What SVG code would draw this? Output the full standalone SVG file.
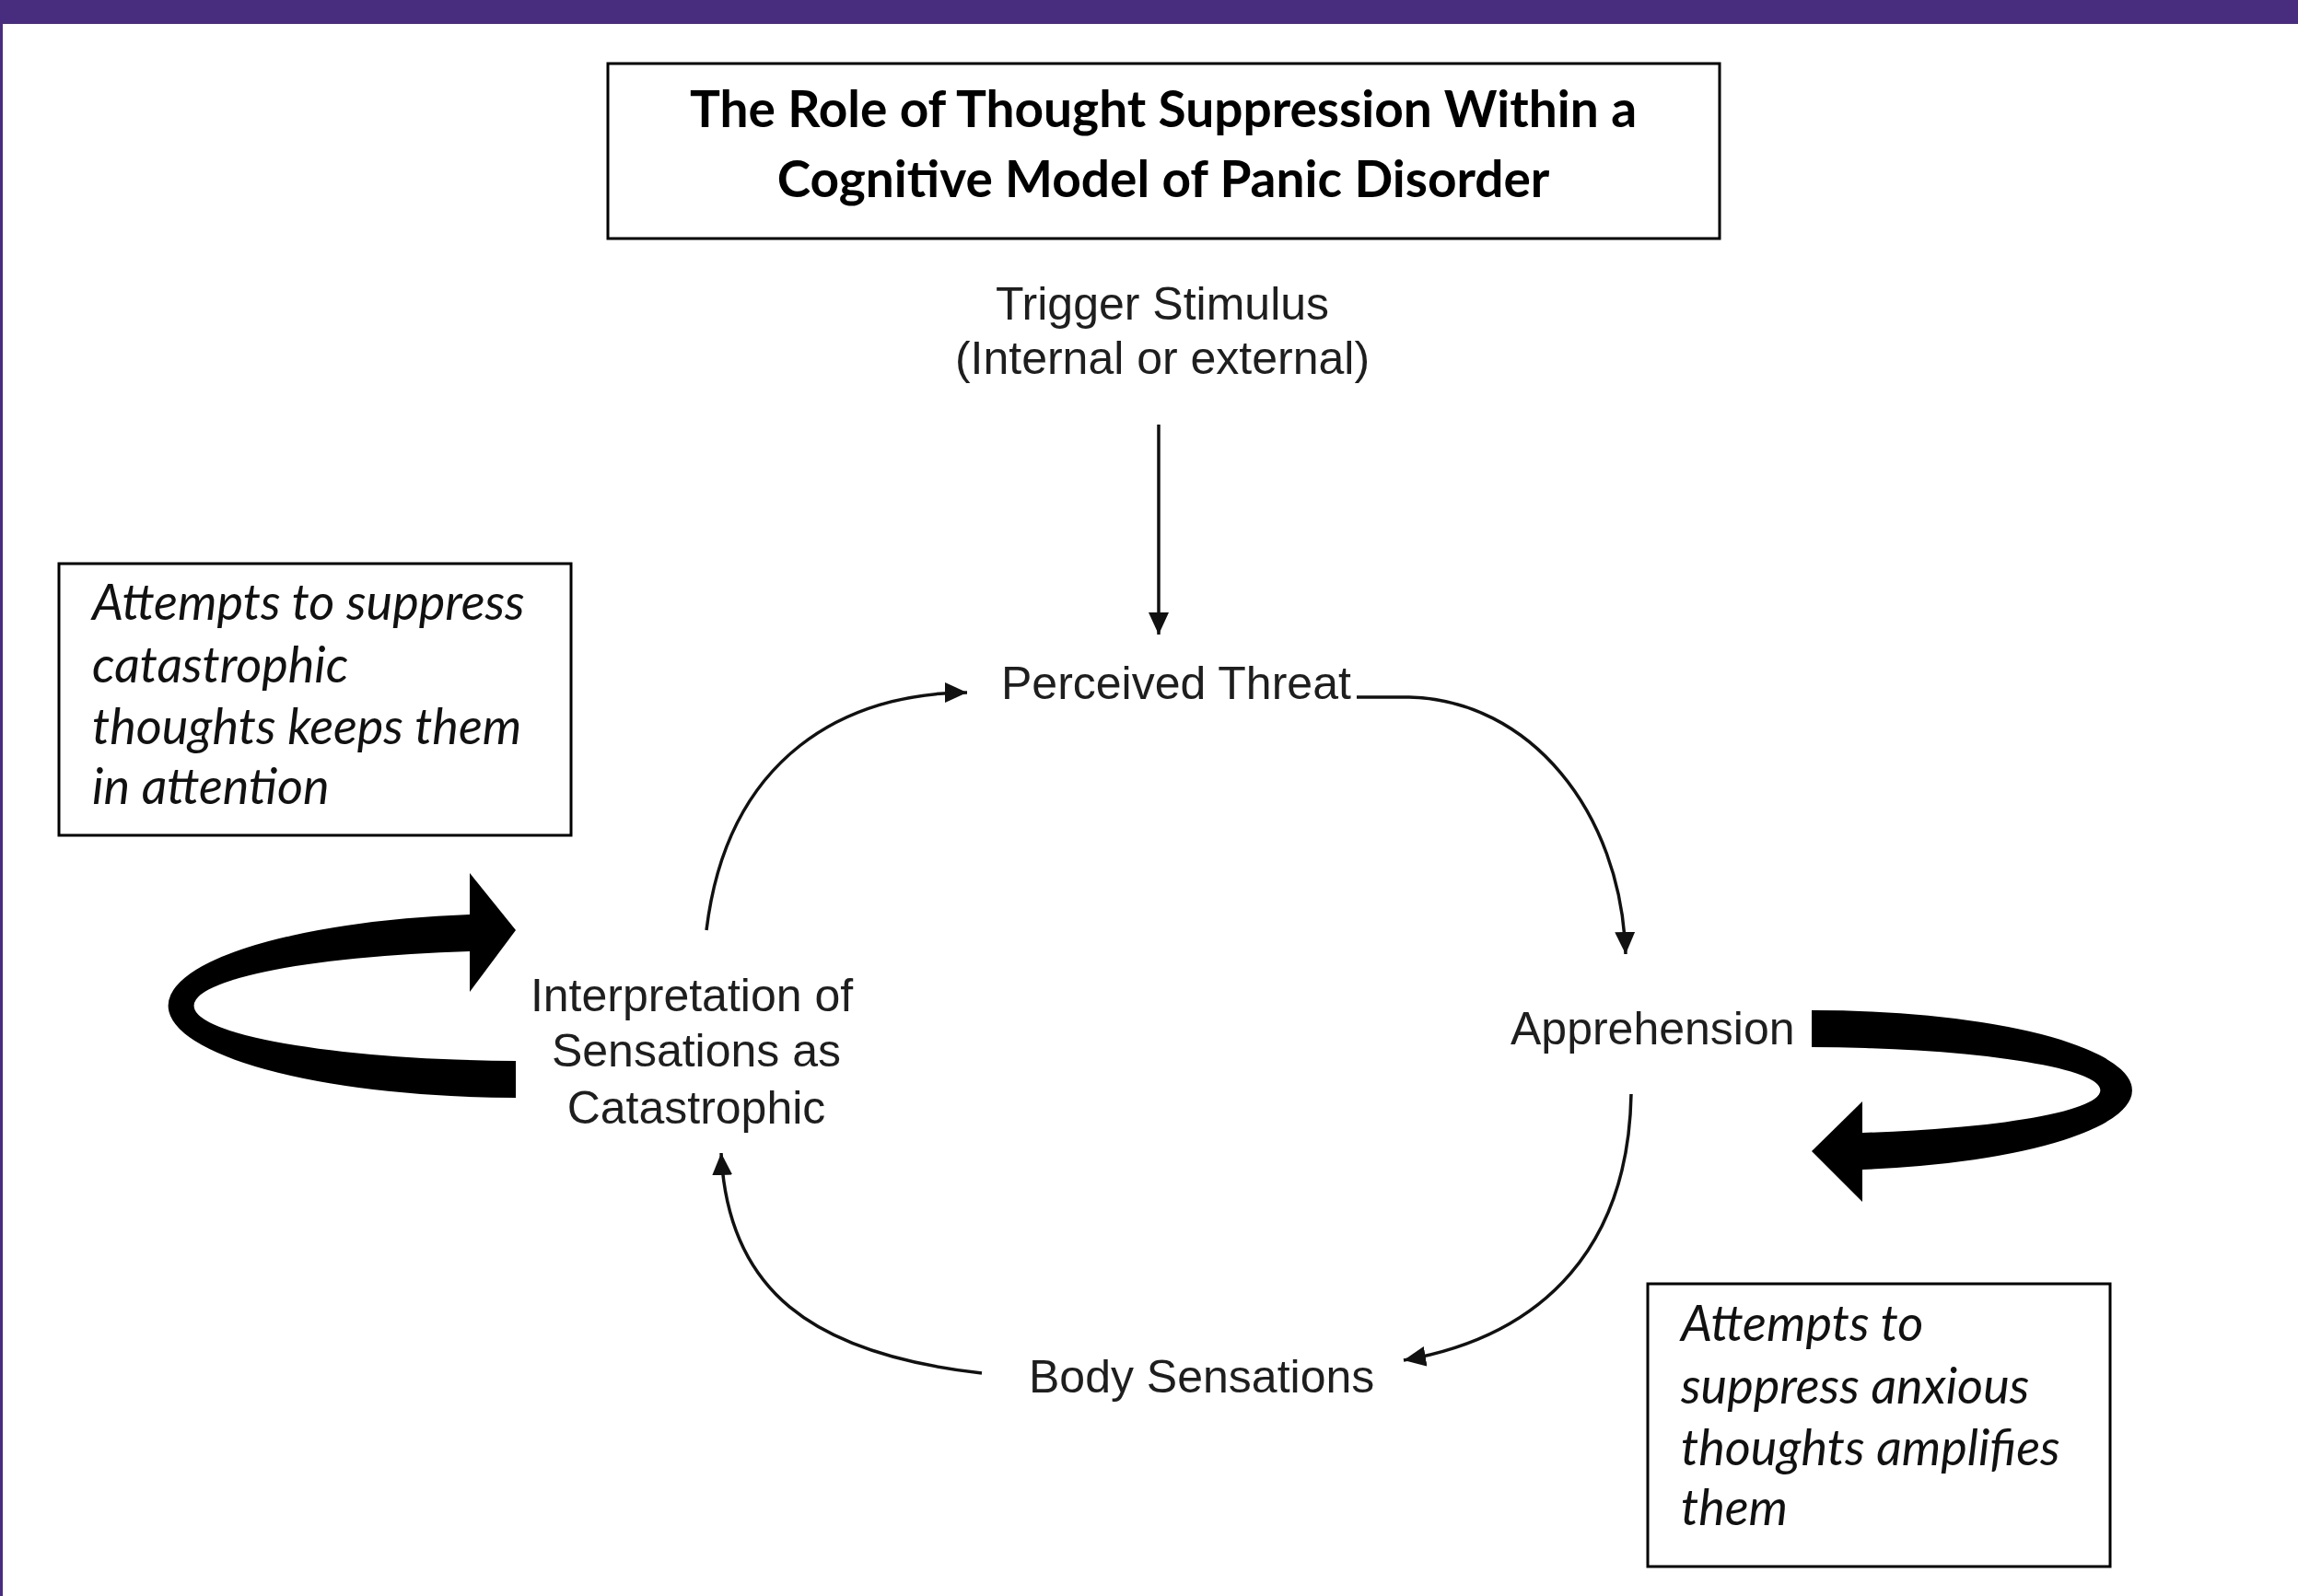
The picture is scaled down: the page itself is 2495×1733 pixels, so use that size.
<svg xmlns="http://www.w3.org/2000/svg" width="2495" height="1733" viewBox="0 0 2495 1733">
  <defs>
    <marker id="ah" markerUnits="userSpaceOnUse" markerWidth="26" markerHeight="22" refX="24" refY="11" orient="auto">
      <path d="M0,0 L24,11 L0,22 Z" fill="#111"/>
    </marker>
    <style>
      .box { fill: #fff; stroke: #000; stroke-width: 3; }
      .title { font-family: "Lato", "Open Sans", sans-serif; font-weight: 700; font-size: 55px; fill: #000; text-anchor: middle; }
      .node { font-family: "Liberation Sans", Arial, sans-serif; font-size: 50px; fill: #1e1e1e; }
      .note { font-family: "Lato", "Open Sans", sans-serif; font-style: italic; font-size: 54px; fill: #111; }
      .conn { fill: none; stroke: #111; stroke-width: 3.5; }
      .big { fill: #000; }
    </style>
  </defs>
  <rect x="0" y="0" width="2495" height="1733" fill="#fff"/>
  <rect x="0" y="0" width="2495" height="26" fill="#482c7e"/>
  <rect x="0" y="0" width="3" height="1733" fill="#482c7e"/>

  <g id="title">
    <rect class="box" x="660" y="69" width="1207" height="190"/>
    <text class="title" x="1263" y="138">The Role of Thought Suppression Within a</text>
    <text class="title" x="1263" y="214">Cognitive Model of Panic Disorder</text>
  </g>

  <g id="trigger">
    <text class="node" x="1262" y="347" text-anchor="middle">Trigger Stimulus</text>
    <text class="node" x="1262" y="406" text-anchor="middle">(Internal or external)</text>
  </g>

  <g id="perceived-threat">
    <text class="node" x="1087" y="759">Perceived Threat</text>
  </g>

  <g id="apprehension">
    <text class="node" x="1640" y="1134">Apprehension</text>
  </g>

  <g id="body-sensations">
    <text class="node" x="1117" y="1512">Body Sensations</text>
  </g>

  <g id="interpretation">
    <text class="node" x="751" y="1098" text-anchor="middle">Interpretation of</text>
    <text class="node" x="756" y="1158" text-anchor="middle">Sensations as</text>
    <text class="node" x="756" y="1220" text-anchor="middle">Catastrophic</text>
  </g>

  <g id="note-left">
    <rect class="box" x="64" y="612" width="556" height="295"/>
    <text class="note" x="100" y="673">Attempts to suppress</text>
    <text class="note" x="100" y="741">catastrophic</text>
    <text class="note" x="100" y="808">thoughts keeps them</text>
    <text class="note" x="100" y="873">in attention</text>
  </g>

  <g id="note-right">
    <rect class="box" x="1789" y="1394" width="502" height="307"/>
    <text class="note" x="1825" y="1456">Attempts to</text>
    <text class="note" x="1825" y="1524">suppress anxious</text>
    <text class="note" x="1825" y="1591">thoughts amplifies</text>
    <text class="note" x="1825" y="1656">them</text>
  </g>

  <g id="connectors">
    <line class="conn" x1="1258" y1="461" x2="1258" y2="689" marker-end="url(#ah)"/>
    <path class="conn" d="M767,1010 C790,820 920,752 1050,752" marker-end="url(#ah)"/>
    <path class="conn" d="M1473,757 L1530,757 C1660,760 1760,880 1765,1036" marker-end="url(#ah)"/>
    <path class="conn" d="M1771,1188 C1768,1350 1680,1450 1524,1477" marker-end="url(#ah)"/>
    <path class="conn" d="M1066,1491 C880,1470 790,1400 783,1252" marker-end="url(#ah)"/>
    <g id="loop-left">
      <path class="big" d="M510,993 A381,100 0 0 0 560,1192 L560,1152 A364,60 0 0 1 510,1033 Z"/>
      <polygon class="big" points="510,948 560,1010 510,1077"/>
    </g>
    <g id="loop-right">
      <path class="big" d="M1967,1097 A345,87 0 0 1 2022,1270 L2022,1230 A324,47 0 0 0 1967,1137 Z"/>
      <polygon class="big" points="2022,1196 1967,1250 2022,1305"/>
    </g>
  </g>
</svg>
